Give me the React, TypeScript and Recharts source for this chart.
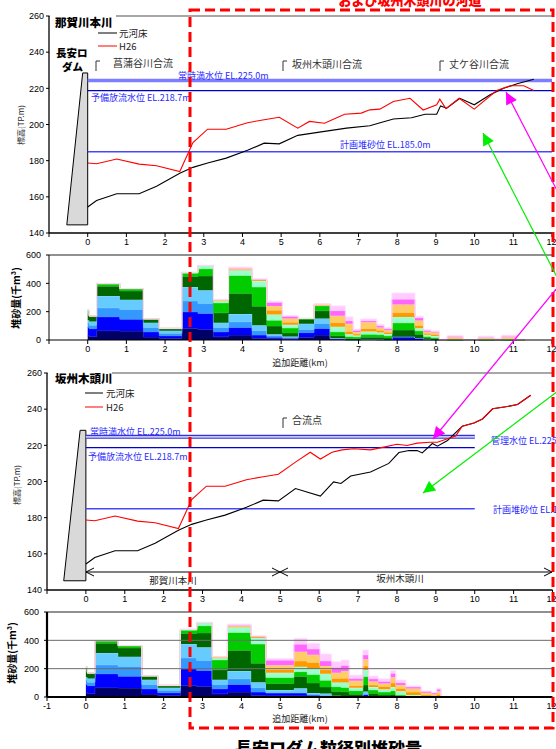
import React from 'react';
import { LineChart, Line, AreaChart, Area, XAxis, YAxis, ReferenceLine, ReferenceArea } from 'recharts';

const W = 556;
const JP = "'Noto Sans CJK JP', sans-serif";
const NUM = "'Liberation Sans', Arial, sans-serif";

const kmTicks = [-1, 0, 1, 2, 3, 4, 5, 6, 7, 8, 9, 10, 11, 12];
const elevTicks = [140, 160, 180, 200, 220, 240, 260];
const sedTicks = [0, 200, 400, 600];

// 元河床: 那賀川本川 0-5km (both panels), then 那賀川 upstream / 坂州木頭川
const mainBedKm = [0, 0.23, 0.75, 1.33, 1.78, 2.38, 2.72, 3.1, 3.58, 4.13, 4.56, 4.95];
const mainBedEl = [154.4, 158, 161.7, 161.7, 165.8, 173, 176.3, 178.7, 181.4, 185.7, 189.7, 189.3];
const nakaBedKm = [5.43, 5.99, 6.69, 7.29, 7.9, 8.37, 8.72, 9.02, 9.12, 9.28, 9.62, 9.99, 10.4, 10.75, 11.1, 11.53];
const nakaBedEl = [194, 195.8, 198, 199.3, 203, 203.7, 205.7, 205.7, 210.3, 209, 214.5, 210.9, 216.4, 220, 222.5, 225];
const sakaBedKm = [5.39, 6.03, 6.37, 6.56, 6.81, 7.32, 7.79, 8.05, 8.31, 8.52, 8.65, 8.91, 9.04, 9.3, 9.68, 9.98, 10.2, 10.46, 10.8, 11.1, 11.44];
const sakaBedEl = [196.1, 191.9, 199.8, 198.9, 203, 205.2, 210, 216, 217.1, 217.1, 215.8, 221, 219.5, 222.7, 230.6, 232.4, 234.6, 240.2, 241.3, 242.6, 247.7];

// H26
const mainH26Km = [0, 0.23, 0.75, 1.33, 1.78, 2.38, 2.72, 3.1, 3.58, 4.13, 4.56, 4.95];
const mainH26El = [178.7, 178.3, 180.9, 178.1, 177.2, 174, 190, 197.4, 197.4, 201, 202.6, 204];
const nakaH26Km = [5.43, 5.73, 6.12, 6.64, 7.07, 7.29, 7.55, 7.9, 8.33, 8.67, 9.02, 9.1, 9.26, 9.6, 9.99, 10.57, 10.92, 11.27, 11.53];
const nakaH26El = [198, 201.7, 200.7, 205.7, 206.3, 208.1, 208.5, 212.7, 214.5, 208, 210.9, 214, 208.8, 214.5, 208.5, 218.8, 221.4, 221.4, 218.8];
const sakaH26Km = [5.39, 5.77, 6.03, 6.33, 6.59, 6.89, 7.32, 7.66, 8.0, 8.26, 8.52, 8.86, 9.04, 9.3, 9.51, 9.68, 9.98, 10.2, 10.46, 10.8, 11.1, 11.44];
const sakaH26El = [210.7, 216.2, 212.4, 216.2, 217.5, 218.1, 217.5, 219, 220.6, 219.9, 221.2, 221.7, 221.7, 223.6, 225.2, 230.6, 232.4, 234.6, 240.2, 241.3, 242.6, 247.7];

// water levels
const fullLevel = 224.4; // 常時満水位 EL.225.0m
const floodLevel = 218.7; // 予備放流水位
const sedLevel = 185; // 計画堆砂位

// grain size classes, fine (bottom) to coarse (top)
const classKeys = ['c0', 'c1', 'c2', 'c3', 'c4', 'c5', 'c6', 'c7', 'c8', 'c9', 'c10'];
const classFill = ['#000066', '#0000ff', '#3399ff', '#66ccff', '#006600', '#00cc00', '#99ffcc', '#ff9900', '#ffcc66', '#ff66ff', '#ffccff'];
const classStroke = ['#3a3aa8', '#4d6bff', '#77bbff', '#a0dcff', '#3d963d', '#66ee66', '#ccffe6', '#ffbb55', '#ffe2a6', '#ff9cff', '#ffe4ff'];

// sediment bins shared by both panels (0 - 4.63 km), 千m3
const mainBinStart = [0, 0.04, 0.23, 0.83, 1.44, 1.85, 2.43, 2.85, 3.25, 3.64, 4.25];
const mainBinEnd = [0.04, 0.23, 0.83, 1.44, 1.85, 2.43, 2.85, 3.25, 3.64, 4.25, 4.63];
const mainSediment = [
  [30, 60, 30, 20, 40, 30, 0, 0, 0, 0, 0],
  [25, 55, 25, 25, 35, 5, 0, 0, 0, 0, 0],
  [66, 98, 63, 84, 68, 19, 0, 0, 0, 0, 0],
  [63, 84, 68, 70, 61, 17, 0, 0, 0, 0, 0],
  [21, 37, 31, 33, 23, 5, 0, 0, 0, 0, 0],
  [12, 18, 17, 19, 11, 5, 0, 0, 0, 0, 0],
  [82, 117, 77, 98, 75, 23, 5, 0, 0, 0, 0],
  [75, 112, 70, 94, 101, 51, 23, 0, 0, 0, 0],
  [23, 35, 31, 33, 70, 70, 14, 0, 9, 0, 0],
  [35, 54, 40, 54, 145, 128, 36, 5, 8, 0, 10],
  [12, 23, 31, 39, 134, 135, 42, 7, 5, 0, 5],
];

// 那賀川本川 upstream bins
const nakaBinStart = [4.63, 5.03, 5.44, 5.85, 6.27, 6.66, 6.86, 7.05, 7.47, 7.66, 7.86, 8.46, 8.68, 8.87, 9.09, 9.29, 10.09, 10.5, 10.69, 11.08];
const nakaBinEnd = [5.03, 5.44, 5.85, 6.27, 6.66, 6.86, 7.05, 7.47, 7.66, 7.86, 8.46, 8.68, 8.87, 9.09, 9.29, 9.7, 10.5, 10.69, 11.08, 11.3];
const nakaSediment = [
  [8, 12, 12, 8, 58, 42, 40, 30, 30, 25, 9],
  [5, 8, 7, 5, 25, 35, 22, 18, 27, 14, 7],
  [19, 33, 23, 40, 30, 7, 0, 0, 0, 0, 0],
  [35, 47, 35, 35, 54, 37, 0, 0, 10, 0, 0],
  [3, 6, 3, 0, 18, 28, 36, 28, 50, 35, 34],
  [0, 0, 0, 0, 10, 15, 15, 20, 55, 20, 29],
  [0, 0, 0, 0, 10, 12, 10, 10, 15, 10, 10],
  [2, 3, 0, 0, 15, 20, 20, 20, 45, 10, 15],
  [0, 5, 0, 0, 15, 18, 15, 15, 20, 12, 12],
  [0, 0, 0, 0, 15, 15, 12, 12, 15, 10, 10],
  [0, 23, 0, 0, 47, 51, 42, 30, 57, 37, 45],
  [0, 15, 0, 0, 25, 25, 18, 20, 35, 18, 12],
  [0, 5, 0, 0, 10, 10, 12, 10, 12, 8, 8],
  [0, 0, 0, 0, 8, 10, 10, 10, 15, 5, 8],
  [0, 0, 0, 0, 0, 0, 0, 0, 0, 2, 3],
  [0, 0, 0, 0, 0, 0, 5, 5, 10, 5, 8],
  [0, 0, 0, 0, 0, 0, 8, 0, 10, 0, 10],
  [0, 0, 0, 0, 0, 0, 0, 0, 6, 0, 6],
  [0, 0, 0, 0, 0, 0, 8, 0, 12, 5, 10],
  [0, 0, 0, 0, 0, 0, 0, 0, 3, 0, 4],
];

// 坂州木頭川 bins
const sakaBinStart = [4.63, 5.35, 5.69, 6.02, 6.32, 6.56, 6.77, 7.12, 7.27, 7.52, 7.83, 7.97, 8.23, 8.62, 8.89, 9.02, 9.2];
const sakaBinEnd = [5.35, 5.69, 6.02, 6.32, 6.56, 6.77, 7.12, 7.27, 7.52, 7.83, 7.97, 8.23, 8.62, 8.89, 9.02, 9.13, 9.37];
const sakaSediment = [
  [9, 21, 0, 19, 47, 42, 33, 24, 30, 35, 12],
  [9, 21, 0, 31, 83, 35, 35, 40, 66, 52, 42],
  [5, 8, 6, 10, 70, 59, 40, 45, 55, 40, 41],
  [5, 5, 0, 14, 47, 47, 47, 28, 26, 35, 50],
  [3, 0, 0, 5, 30, 35, 30, 28, 40, 38, 40],
  [2, 0, 0, 5, 30, 30, 35, 30, 50, 40, 39],
  [0, 0, 0, 0, 20, 25, 20, 15, 35, 15, 25],
  [0, 19, 0, 19, 47, 59, 47, 28, 47, 30, 36],
  [0, 0, 0, 0, 25, 25, 20, 15, 25, 18, 20],
  [0, 0, 0, 0, 15, 20, 20, 20, 20, 14, 20],
  [0, 0, 0, 0, 20, 25, 25, 30, 40, 26, 20],
  [0, 0, 0, 0, 0, 15, 25, 20, 25, 15, 20],
  [0, 0, 0, 0, 0, 0, 15, 20, 25, 10, 8],
  [0, 0, 0, 0, 0, 0, 0, 15, 15, 8, 7],
  [0, 0, 0, 0, 0, 0, 0, 10, 10, 8, 5],
  [0, 0, 0, 0, 0, 0, 0, 20, 20, 14, 10],
  [0, 0, 0, 0, 0, 0, 0, 0, 0, 2, 3],
];

const toPoints = (km: number[], el: number[]) => km.map((k, i) => ({ km: k, el: el[i] }));

const nakaBed = toPoints([...mainBedKm, ...nakaBedKm], [...mainBedEl, ...nakaBedEl]);
const nakaH26 = toPoints([...mainH26Km, ...nakaH26Km], [...mainH26El, ...nakaH26El]);
const sakaBed = toPoints([...mainBedKm, ...sakaBedKm], [...mainBedEl, ...sakaBedEl]);
const sakaH26 = toPoints([...mainH26Km, ...sakaH26Km], [...mainH26El, ...sakaH26El]);

// step data for stacked areas: value holds from a bin's start to its end
function buildSteps(starts: number[], ends: number[], rows: number[][]) {
  const out: any[] = [];
  starts.forEach((s, i) => {
    const p: any = { km: s };
    classKeys.forEach((k, j) => (p[k] = rows[i][j]));
    out.push(p);
    const next = starts[i + 1];
    if (next === undefined || next > ends[i] + 1e-6) {
      const z: any = { km: ends[i] };
      classKeys.forEach((k) => (z[k] = 0));
      out.push(z);
    }
  });
  return out;
}

const nakaSteps = buildSteps([...mainBinStart, ...nakaBinStart], [...mainBinEnd, ...nakaBinEnd], [...mainSediment, ...nakaSediment]);
const sakaSteps = buildSteps([...mainBinStart, ...sakaBinStart], [...mainBinEnd, ...sakaBinEnd], [...mainSediment, ...sakaSediment]);

const tickStyle = { fontSize: 9, fill: '#000', fontFamily: NUM };

const damShape = (frac: number) => (props: any) => {
  const { x, y, width, height } = props;
  const pts = `${x},${y + height} ${x + width},${y + height} ${x + width},${y} ${x + width * frac},${y}`;
  return <polygon points={pts} fill="#d9d9d9" stroke="#000" strokeWidth={1} />;
};

function ProfileChart({ bed, h26, left, right, levelEnd, dam, lower }: any) {
  return (
    <LineChart width={W} height={253} margin={{ top: 16, right, left: 0, bottom: 0 }}>
      <XAxis
        type="number"
        dataKey="km"
        domain={[-1, 12]}
        ticks={kmTicks}
        allowDataOverflow
        height={20}
        tickSize={4}
        tickMargin={2}
        tick={tickStyle}
        tickFormatter={(v: number) => (v === -1 ? '' : String(v))}
        axisLine={{ stroke: '#000', strokeWidth: 1.3 }}
        tickLine={{ stroke: '#000' }}
      />
      <YAxis
        type="number"
        domain={[140, 260]}
        ticks={elevTicks}
        width={left}
        tickSize={3}
        tickMargin={2}
        tick={tickStyle}
        axisLine={{ stroke: '#000', strokeWidth: 1.3 }}
        tickLine={{ stroke: '#000' }}
      />
      <ReferenceLine y={260} stroke="#8a8a8a" strokeWidth={1.5} />
      <ReferenceArea x1={dam[0]} x2={0} y1={dam[1]} y2={dam[2]} shape={damShape(dam[3])} ifOverflow="visible" />
      {lower ? (
        <>
          <ReferenceLine segment={[{ x: 0, y: 224.7 }, { x: levelEnd, y: 224.7 }]} stroke="#3434d6" strokeWidth={4} />
          <ReferenceLine segment={[{ x: 0, y: 224.7 }, { x: levelEnd, y: 224.7 }]} stroke="#c4c4ff" strokeWidth={1.6} />
        </>
      ) : (
        <ReferenceLine segment={[{ x: 0, y: fullLevel }, { x: levelEnd, y: fullLevel }]} stroke="#7d7dff" strokeWidth={3.5} />
      )}
      <ReferenceLine segment={[{ x: 0, y: floodLevel }, { x: levelEnd, y: floodLevel }]} stroke="#0000c8" strokeWidth={1.2} />
      <ReferenceLine segment={[{ x: 0, y: sedLevel }, { x: levelEnd, y: sedLevel }]} stroke="#4646ff" strokeWidth={1.5} />
      <Line data={bed} dataKey="el" name="元河床" stroke="#000" strokeWidth={1.1} dot={false} isAnimationActive={false} />
      <Line data={h26} dataKey="el" name="H26" stroke="#ff0000" strokeWidth={1.1} dot={false} isAnimationActive={false} />
    </LineChart>
  );
}

function SedimentChart({ data, left, right, heavy, grid, showMinus }: any) {
  const axisW = heavy ? 2.2 : 1;
  return (
    <AreaChart width={W} height={120} data={data} margin={{ top: 15, right, left: 0, bottom: 0 }}>
      {grid.map((v: number) => (
        <ReferenceLine key={v} y={v} stroke="#6b6b6b" strokeWidth={v === 600 ? 1.4 : 1} />
      ))}
      {classKeys.map((k, i) => (
        <Area
          key={k}
          type="stepAfter"
          dataKey={k}
          stackId="s"
          fill={classFill[i]}
          fillOpacity={1}
          stroke={classStroke[i]}
          strokeWidth={0.8}
          dot={false}
          activeDot={false}
          isAnimationActive={false}
        />
      ))}
      <XAxis
        type="number"
        dataKey="km"
        domain={[-1, 12]}
        ticks={kmTicks}
        allowDataOverflow
        height={20}
        tickSize={4}
        tickMargin={2}
        tick={tickStyle}
        tickFormatter={(v: number) => (v === -1 && !showMinus ? '' : String(v))}
        axisLine={{ stroke: '#000', strokeWidth: axisW }}
        tickLine={{ stroke: '#000' }}
      />
      <YAxis
        type="number"
        domain={[0, 600]}
        ticks={sedTicks}
        width={left}
        tickSize={3}
        tickMargin={5}
        tick={tickStyle}
        axisLine={{ stroke: '#000', strokeWidth: axisW }}
        tickLine={{ stroke: '#000' }}
      />
    </AreaChart>
  );
}

const Txt = ({ x, y, children, size = 9, color = '#000', anchor = 'start', weight = 400, rotate = false }: any) => (
  <text
    x={rotate ? 0 : x}
    y={rotate ? 0 : y}
    transform={rotate ? `translate(${x},${y}) rotate(-90)` : undefined}
    fontSize={size}
    fill={color}
    textAnchor={anchor}
    fontWeight={weight}
    fontFamily={JP}
    dominantBaseline="central"
  >
    {children}
  </text>
);

const Bracket = ({ x, y }: any) => <path d={`M${x},${y + 10} V${y} H${x + 4}`} fill="none" stroke="#333" strokeWidth={1} />;

const Overlay = () => (
  <svg width={W} height={749} style={{ position: 'absolute', left: 0, top: 0, pointerEvents: 'none' }}>
    <defs>
      <marker id="mgHead" viewBox="0 0 10 10" refX="10" refY="5" markerWidth="15" markerHeight="12" markerUnits="userSpaceOnUse" orient="auto">
        <path d="M0,0 L10,5 L0,10 z" fill="#ff00ff" />
      </marker>
      <marker id="grHead" viewBox="0 0 10 10" refX="10" refY="5" markerWidth="15" markerHeight="12" markerUnits="userSpaceOnUse" orient="auto">
        <path d="M0,0 L10,5 L0,10 z" fill="#00ee00" />
      </marker>
    </defs>

    {/* upper profile */}
    <rect x={50} y={13} width={66} height={17} fill="#fff" />
    <Txt x={55} y={22} size={11.5} weight={900}>那賀川本川</Txt>
    <Txt x={56} y={52} size={10.5} weight={900}>長安ロ</Txt>
    <Txt x={62} y={66} size={10.5} weight={900}>ダム</Txt>
    <line x1={98} y1={33} x2={117} y2={33} stroke="#000" strokeWidth={1} />
    <Txt x={119} y={33} size={9.5} color="#222">元河床</Txt>
    <line x1={98} y1={46} x2={117} y2={46} stroke="#ff0000" strokeWidth={1} />
    <Txt x={119} y={46} size={9.5} color="#222">H26</Txt>
    <Bracket x={96} y={61} />
    <Txt x={113} y={62} size={10} color="#333">菖蒲谷川合流</Txt>
    <Bracket x={283} y={61} />
    <Txt x={292} y={63} size={10} color="#333">坂州木頭川合流</Txt>
    <Bracket x={440} y={61} />
    <Txt x={449} y={63} size={10} color="#333">丈ケ谷川合流</Txt>
    <Txt x={178} y={75} size={9} color="#2a2aff">常時満水位 EL.225.0m</Txt>
    <Txt x={91} y={97} size={9} color="#2a2aff">予備放流水位 EL.218.7m</Txt>
    <Txt x={340} y={144} size={9} color="#2a2aff">計画堆砂位 EL.185.0m</Txt>
    <Txt x={20} y={125} size={8} color="#222" anchor="middle" rotate>標高(TP.m)</Txt>

    {/* upper sediment */}
    <Txt x={15} y={298} size={10} weight={700} anchor="middle" rotate>堆砂量(千m³)</Txt>
    <Txt x={300} y={362} size={9} color="#222" anchor="middle">追加距離(km)</Txt>

    {/* lower profile */}
    <rect x={48} y={370} width={64} height={17} fill="#fff" />
    <Txt x={55} y={378} size={11.5} weight={900}>坂州木頭川</Txt>
    <line x1={85} y1={393} x2={103} y2={393} stroke="#000" strokeWidth={1} />
    <Txt x={106} y={393} size={9.5} color="#222">元河床</Txt>
    <line x1={85} y1={407} x2={103} y2={407} stroke="#ff0000" strokeWidth={1} />
    <Txt x={106} y={407} size={9.5} color="#222">H26</Txt>
    <Bracket x={283} y={418} />
    <Txt x={292} y={419} size={10} color="#333">合流点</Txt>
    <Txt x={90} y={431} size={9} color="#2a2aff">常時満水位 EL.225.0m</Txt>
    <Txt x={88} y={456} size={9} color="#2a2aff">予備放流水位 EL.218.7m</Txt>
    <Txt x={491} y={440} size={9} color="#2a2aff">管理水位 EL.225.0m</Txt>
    <Txt x={493} y={509} size={9} color="#2a2aff">計画堆砂位 EL.185.0m</Txt>
    <Txt x={16} y={485} size={8} color="#222" anchor="middle" rotate>標高(TP.m)</Txt>
    <line x1={86} y1={572} x2={552} y2={572} stroke="#000" strokeWidth={1} />
    <path d="M94,568 L86,572 L94,576 M272,568 L280,572 L272,576 M288,568 L280,572 L288,576 M544,568 L552,572 L544,576" fill="none" stroke="#000" strokeWidth={1} />
    <Txt x={173} y={580} size={9.5} color="#222" anchor="middle">那賀川本川</Txt>
    <Txt x={400} y={578} size={9.5} color="#222" anchor="middle">坂州木頭川</Txt>

    {/* lower sediment */}
    <Txt x={11} y={653} size={10} weight={700} anchor="middle" rotate>堆砂量(千m³)</Txt>
    <Txt x={300} y={718} size={9} color="#222" anchor="middle">追加距離(km)</Txt>

    {/* highlight frame and arrows */}
    <rect x={190} y={10} width={363} height={718} fill="none" stroke="#ff0000" strokeWidth={3} strokeDasharray="10 5" />
    <line x1={562} y1={200} x2={506} y2={92} stroke="#ff00ff" strokeWidth={1.2} markerEnd="url(#mgHead)" />
    <line x1={562} y1={282} x2={433} y2={439} stroke="#ff00ff" strokeWidth={1.2} markerEnd="url(#mgHead)" />
    <line x1={562} y1={287} x2={483} y2={133} stroke="#00ee00" strokeWidth={1.2} markerEnd="url(#grHead)" />
    <line x1={562} y1={388} x2={423} y2={493} stroke="#00ee00" strokeWidth={1.2} markerEnd="url(#grHead)" />

    <text x={410} y={5} fontSize={13} fontWeight={900} fill="#ff0000" textAnchor="middle" fontFamily={JP}>および坂州木頭川の河道</text>
    <text x={235} y={755} fontSize={17} fontWeight={900} fill="#000" fontFamily={JP}>長安ロダム粒径別堆砂量</text>
  </svg>
);

export default function App() {
  return (
    <div style={{ position: 'absolute', left: 0, top: 0, width: W, height: 749, overflow: 'hidden', background: '#fff' }}>
      <div style={{ position: 'absolute', left: 0, top: 0 }}>
        <ProfileChart bed={nakaBed} h26={nakaH26} left={49} right={4} levelEnd={12} dam={[-0.54, 144.5, 228.5, 0.76]} />
      </div>
      <div style={{ position: 'absolute', left: 0, top: 240 }}>
        <SedimentChart data={nakaSteps} left={49} right={4} grid={[600]} />
      </div>
      <div style={{ position: 'absolute', left: 0, top: 357 }}>
        <ProfileChart bed={sakaBed} h26={sakaH26} left={47} right={3.5} levelEnd={10} dam={[-0.57, 145.1, 228.3, 0.74]} lower />
      </div>
      <div style={{ position: 'absolute', left: 0, top: 597 }}>
        <SedimentChart data={sakaSteps} left={47} right={3.5} grid={[200, 400, 600]} heavy showMinus />
      </div>
      <Overlay />
    </div>
  );
}
